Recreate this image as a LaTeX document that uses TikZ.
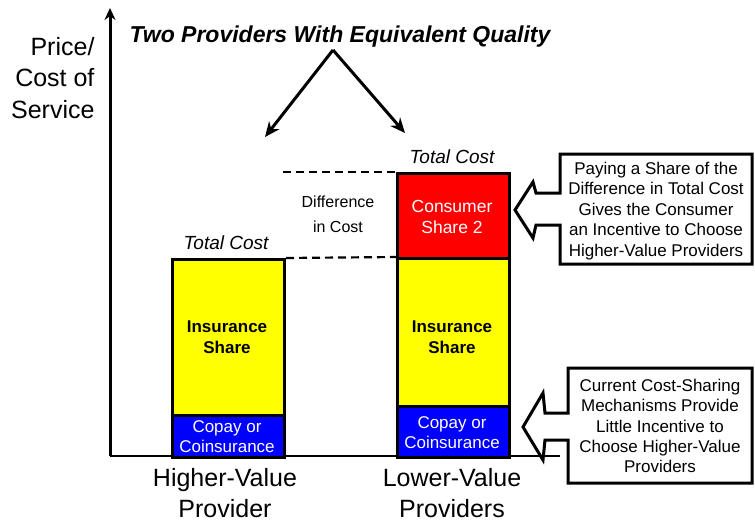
\documentclass[tikz,border=0pt]{standalone}
\usepackage{fontspec}
\setmainfont{Liberation Sans}
\usetikzlibrary{arrows.meta}
\definecolor{barblue}{RGB}{0,0,255}
\definecolor{baryellow}{RGB}{255,255,0}
\definecolor{barred}{RGB}{255,0,0}
\begin{document}
\begin{tikzpicture}[x=1pt,y=-1pt,
  bar/.style={draw=black, line width=3pt, minimum width=112pt, inner sep=0pt, anchor=north west, align=center},
  axislbl/.style={font=\fontsize{25}{31.5}\selectfont, align=center},
  tc/.style={font=\fontsize{19}{20}\selectfont\itshape},
  callout/.style={draw=black, line width=3pt, fill=white, line join=miter},
  ctext/.style={font=\fontsize{17}{20.4}\selectfont, align=center},
  inslbl/.style={font=\fontsize{17}{21}\selectfont\bfseries, align=center},
  whitelbl/.style={text=white, font=\fontsize{17}{20}\selectfont, align=center},
  dashline/.style={line width=2.2pt, dash pattern=on 8pt off 5pt},
  bigarrow/.style={line width=3pt, -{Stealth[length=15pt,width=13pt]}}
]
\useasboundingbox (0,0) rectangle (755,522);

% axes
\coordinate (origin) at (110,456);
\coordinate (ytop) at (110,8);
\coordinate (xend) at (560,456);
\draw[line width=2pt] (origin) -- (xend);
\draw[line width=3pt, -{Stealth[length=12pt,width=11pt]}] (origin) -- (ytop);

\node[axislbl, align=right, anchor=east] (ylabel) at (98,78) {Price/\\Cost of\\Service};

% left bar
\node[bar, fill=baryellow, minimum height=156pt] (yl) at (171,258) {};
\node[inslbl] (ylt) at (227,337) {Insurance\\Share};
\node[bar, fill=barblue, minimum height=42pt] (bl) at (171,414) {};
\node[whitelbl] (blt) at (227,437) {Copay or\\Coinsurance};

% right bar
\node[bar, fill=barred, minimum height=85pt] (rr) at (396,172) {};
\node[whitelbl, font=\fontsize{17.5}{20.5}\selectfont] (rrt) at (452,217) {Consumer\\Share 2};
\node[bar, fill=baryellow, minimum height=148pt] (yr) at (396,257) {};
\node[inslbl] (yrt) at (452,337) {Insurance\\Share};
\node[bar, fill=barblue, minimum height=51pt] (br) at (396,405) {};
\node[whitelbl] (brt) at (452,433) {Copay or\\Coinsurance};

% total cost labels
\node[tc] (tcl) at (226,243) {Total Cost};
\node[tc] (tcr) at (452,157) {Total Cost};

% dashed lines
\coordinate (d1) at (283,172);
\draw[dashline] (d1) -- (rr.north west);
\draw[dashline] (yl.north east) -- (yr.north west);
\node[font=\fontsize{16}{25}\selectfont, align=center] (diff) at (338,214) {Difference\\in Cost};

% x labels
\node[axislbl, inner sep=1pt] (xl1) at (225,493) {Higher-Value\\Provider};
\node[axislbl, inner sep=1pt] (xl2) at (452,493) {Lower-Value\\Providers};

% title and arrows
\node[font=\fontsize{23}{26}\selectfont\bfseries\itshape] (title) at (340,37) {Two Providers With Equivalent Quality};
\coordinate (apex) at (333,50);
\coordinate (tipL) at (265,137);
\coordinate (tipR) at (405,133);
\draw[bigarrow] (apex) -- (tipL);
\draw[bigarrow] (apex) -- (tipR);

% top callout
\draw[callout] (515,210) -- (533,182) -- (536,193) -- (560,193) -- (560,154) -- (752,154)
  -- (752,264) -- (560,264) -- (560,225) -- (536,225) -- (533,238) -- cycle;
\node[ctext] (c1) at (656,211) {Paying a Share of the\\Difference in Total Cost\\Gives the Consumer\\an Incentive to Choose\\Higher-Value Providers};

% bottom callout
\draw[callout] (523,427) -- (543,393) -- (545,413) -- (568,413) -- (568,368) -- (752,368)
  -- (752,483) -- (568,483) -- (568,440) -- (545,440) -- (543,460) -- cycle;
\node[ctext] (c2) at (660,426) {Current Cost-Sharing\\Mechanisms Provide\\Little Incentive to\\Choose Higher-Value\\Providers};
\end{tikzpicture}
\end{document}
